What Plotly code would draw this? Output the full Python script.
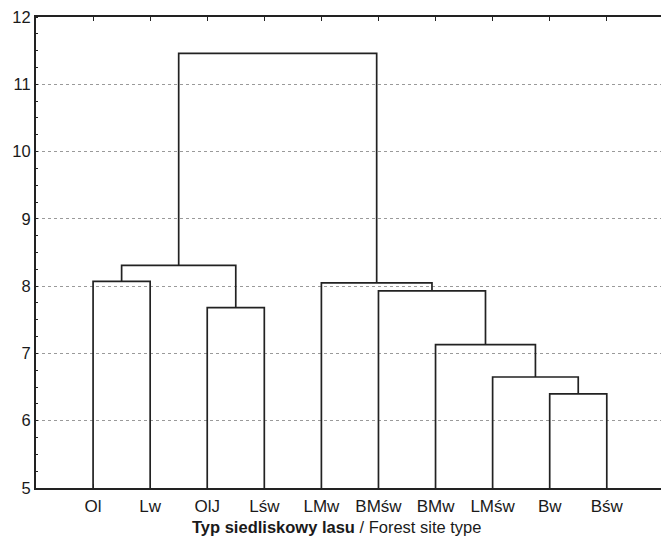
import plotly.graph_objects as go

# ---- data ----
leaves = ["Ol", "Lw", "OlJ", "Lśw", "LMw", "BMśw", "BMw", "LMśw", "Bw", "Bśw"]
# linkage: (left id, right id, height); leaf ids 0..9, cluster ids 10..
merge_left = [8, 7, 6, 2, 5, 4, 0, 16, 17]
merge_right = [9, 10, 11, 3, 12, 14, 1, 13, 15]
merge_height = [6.40, 6.65, 7.13, 7.68, 7.93, 8.05, 8.07, 8.31, 11.46]
y_ticks = [5, 6, 7, 8, 9, 10, 11, 12]

y_base = 5
n = len(leaves)
pos = {i: (i + 1, y_base) for i in range(n)}
xs, ys = [], []
for k, (a, b, h) in enumerate(zip(merge_left, merge_right, merge_height)):
    xa, ya = pos[a]
    xb, yb = pos[b]
    xs += [xa, xa, xb, xb, None]
    ys += [ya, h, h, yb, None]
    pos[n + k] = ((xa + xb) / 2, h)

fig = go.Figure()
fig.add_trace(go.Scatter(x=xs, y=ys, mode="lines",
                         line=dict(color="#222222", width=1.7),
                         hoverinfo="skip", showlegend=False))

font = "Liberation Sans, Arial, sans-serif"
fig.update_layout(
    width=661, height=537,
    margin=dict(l=36, r=0, t=17, b=49),
    paper_bgcolor="white", plot_bgcolor="white",
    font=dict(family=font, color="#1a1a1a", size=16),
    showlegend=False,
    annotations=[dict(
        text="<b>Typ siedliskowy lasu</b> / Forest site type",
        xref="paper", yref="paper", x=(336.5 - 36) / 625, y=0,
        xanchor="center", yanchor="middle", yshift=-39,
        showarrow=False, font=dict(size=16.5, family=font, color="#1a1a1a"),
    )],
)
fig.update_xaxes(
    range=[0, 10.95], tickmode="array",
    tickvals=list(range(1, n + 1)), ticktext=leaves,
    showgrid=False, zeroline=False, automargin=False,
    showline=True, linecolor="#222222", linewidth=2, mirror="ticks",
    ticks="inside", ticklen=4, tickcolor="#222222",
    tickfont=dict(size=17), ticklabelstandoff=2,
)
fig.update_yaxes(
    range=[5, 12], tickmode="array", tickvals=y_ticks,
    showgrid=True, gridcolor="#9a9a9a", griddash="dot", gridwidth=1,
    zeroline=False, showline=True, linecolor="#222222", linewidth=2,
    automargin=False,
    ticks="", tickfont=dict(size=16.5),
    minor=dict(dtick=0.25, ticks="inside", ticklen=2, tickcolor="#222222", showgrid=False),
)
fig.write_html("out.html", config={"displayModeBar": False},
               post_script="document.body.style.margin='0';document.body.style.overflow='hidden';")
